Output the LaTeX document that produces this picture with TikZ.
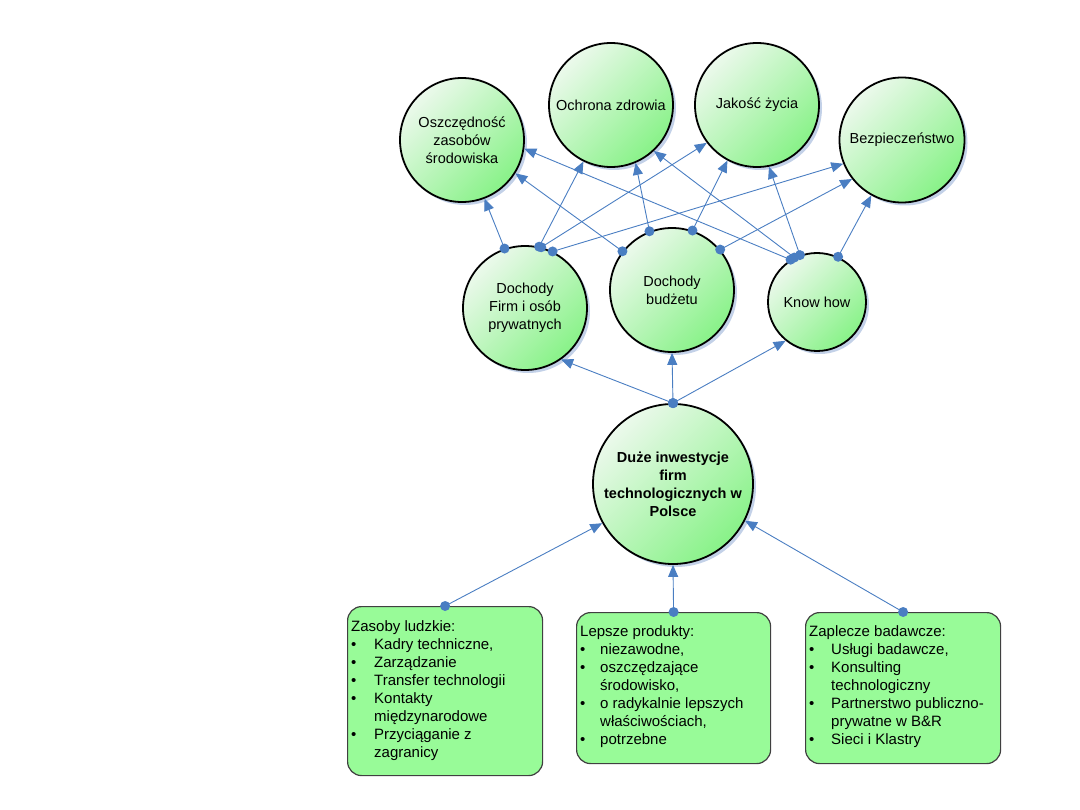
\documentclass[tikz,border=0pt]{standalone}
\usepackage{fontspec}
\setmainfont{Liberation Sans}
\usetikzlibrary{arrows.meta,shadows}
\definecolor{conn}{HTML}{4A7EC2}
\definecolor{gLight}{HTML}{ECF9EC}
\definecolor{gDark}{HTML}{88F288}
\definecolor{boxfill}{HTML}{98FB98}
\definecolor{shadowc}{HTML}{B4C6E2}
\newlength\bw
\tikzset{
  bubble/.style={circle, draw=black, line width=1.8pt, top color=gLight, bottom color=gDark,
    shading angle=45, inner sep=0pt, align=center, font=\fontsize{14.5}{18}\selectfont,
    drop shadow={shadow xshift=3pt, shadow yshift=-3pt, fill=shadowc, opacity=0.8}},
  listbox/.style={draw=black!75, line width=1.2pt, fill=boxfill, rounded corners=14pt,
    anchor=north west, inner sep=0pt},
  listtext/.style={anchor=north west, inner sep=0pt, align=left, font=\fontsize{15}{18}\selectfont,
    execute at begin node={\setlength\bw{#1}}},
  link/.style={draw=conn, line width=0.9pt, -{Triangle[length=12pt,width=10pt]}},
}
\newcommand{\linkit}[2]{\draw[link] (#1) -- (#2); \fill[conn] (#1) circle (5pt);}
\newcommand{\bul}{\makebox[\bw][l]{\textbullet}}
\newcommand{\cont}{\hspace*{\bw}}
\begin{document}
\begin{tikzpicture}[x=1pt,y=-1pt]
\useasboundingbox (0,0) rectangle (1080,810);
% top row
\node[bubble, minimum size=124pt] (O)  at (462,140) {Oszczędność\\zasobów\\środowiska};
\node[bubble, minimum size=124pt] (Oc) at (611,105) {Ochrona zdrowia};
\node[bubble, minimum size=124pt] (J)  at (757,105) {Jakość życia};
\node[bubble, minimum size=125pt] (B)  at (902,140) {Bezpieczeństwo};
% middle row
\node[bubble, minimum size=124pt] (F)  at (525,308) {Dochody\\Firm i osób\\prywatnych};
\node[bubble, minimum size=124pt] (Bu) at (672,290) {Dochody\\budżetu};
\node[bubble, minimum size=98pt]  (K)  at (817,302) {Know how};
% main
\node[bubble, minimum size=160pt, font=\bfseries\fontsize{14.5}{18}\selectfont] (D) at (673,484)
  {Duże inwestycje\\firm\\technologicznych w\\Polsce};
% boxes
\node[listbox, minimum width=195pt, minimum height=169pt] (zas) at (347,606) {};
\node[listbox, minimum width=194pt, minimum height=151pt] (lep) at (576,612) {};
\node[listbox, minimum width=195pt, minimum height=151pt] (zap) at (805,612) {};
\node[listtext=23pt] (zasT) at (351,620) {Zasoby ludzkie:\\
  \bul Kadry techniczne,\\ \bul Zarządzanie\\ \bul Transfer technologii\\
  \bul Kontakty\\ \cont międzynarodowe\\ \bul Przyciąganie z\\ \cont zagranicy};
\node[listtext=20pt] (lepT) at (580,625) {Lepsze produkty:\\
  \bul niezawodne,\\ \bul oszczędzające\\ \cont środowisko,\\
  \bul o radykalnie lepszych\\ \cont właściwościach,\\ \bul potrzebne};
\node[listtext=22pt] (zapT) at (809,625) {Zaplecze badawcze:\\
  \bul Usługi badawcze,\\ \bul Konsulting\\ \cont technologiczny\\
  \bul Partnerstwo publiczno-\\ \cont prywatne w B\&R\\ \bul Sieci i Klastry};
% upper links
\linkit{F.109}{O.-69}
\linkit{F.77}{Oc.244}
\linkit{F.75}{J.217}
\linkit{F.64}{B.202}
\linkit{Bu.142}{O.-32}
\linkit{Bu.111}{Oc.-67}
\linkit{Bu.71}{J.242}
\linkit{Bu.40}{B.218}
\linkit{K.122}{O.-8}
\linkit{K.117}{Oc.-47}
\linkit{K.110}{J.-79}
\linkit{K.65}{B.241}
% lower links
\linkit{D.90}{F.-55}
\linkit{D.90}{Bu.-90}
\linkit{D.90}{K.231}
\linkit{zas.north}{D.209}
\linkit{lep.north}{D.-90}
\linkit{zap.north}{D.-27}
\end{tikzpicture}
\end{document}
